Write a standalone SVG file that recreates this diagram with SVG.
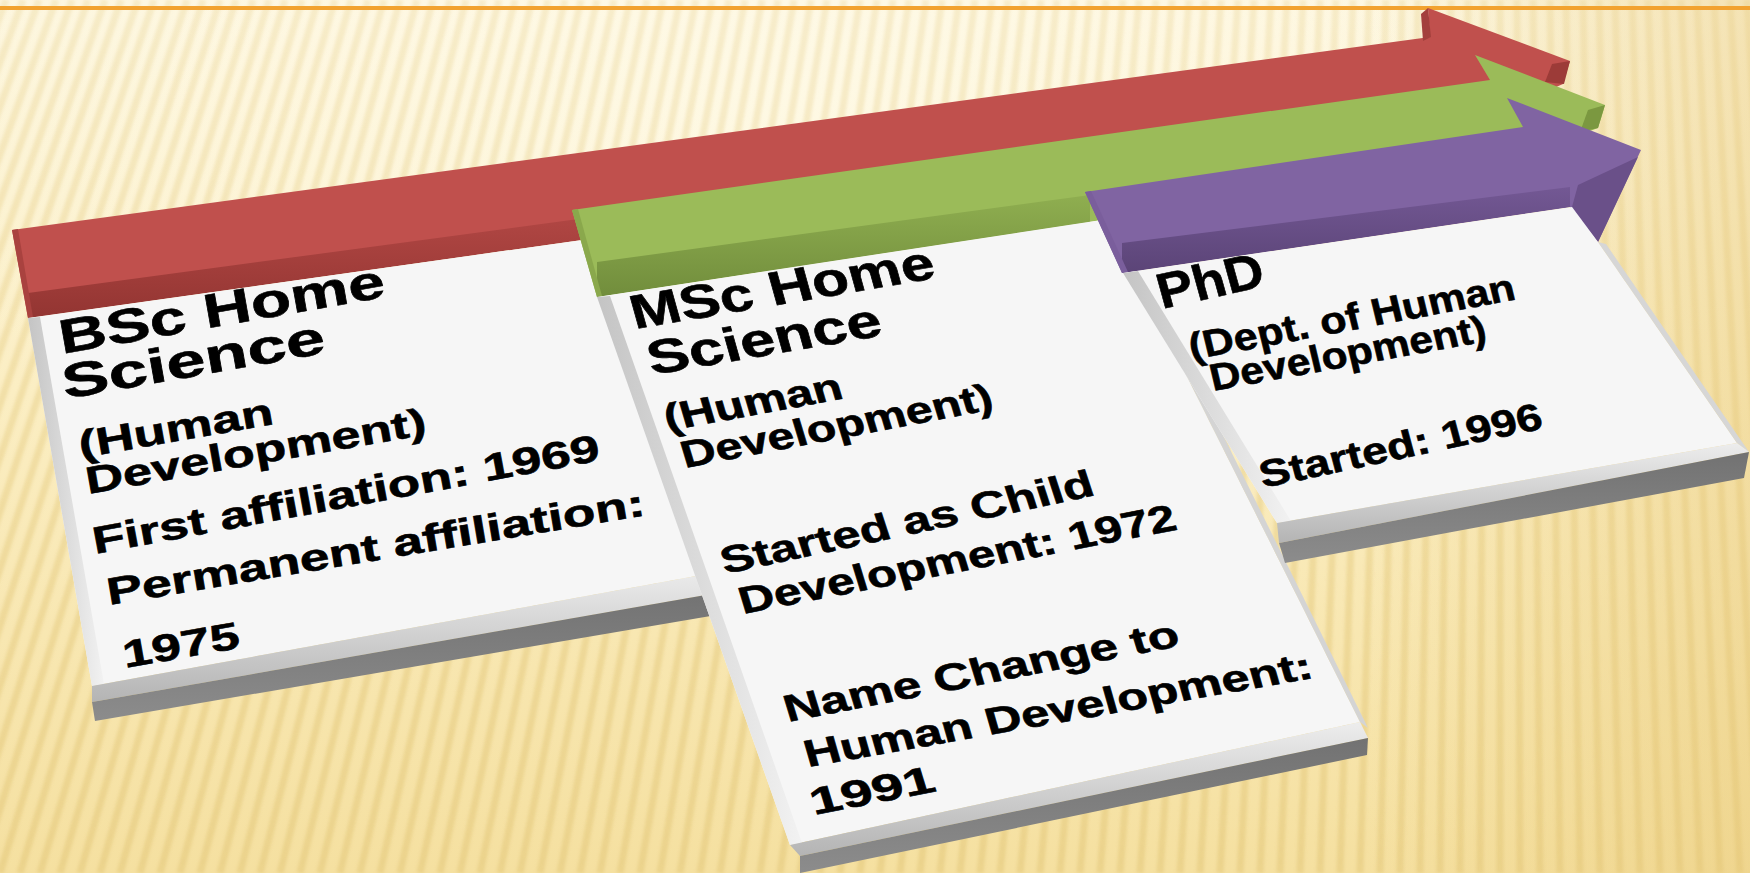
<svg xmlns="http://www.w3.org/2000/svg" width="1750" height="873" viewBox="0 0 1750 873">
<defs>
<style>
.t{font-family:"Liberation Sans",Arial,sans-serif;font-weight:bold;fill:#000;stroke:#000;stroke-width:0.6}
.h{font-size:48px}
.s{font-size:38px}
.card{fill:#f6f6f6}
.bevL{fill:url(#gBevL)}
.bevB{fill:url(#gBevB)}
.front{fill:url(#gFront)}
</style>
<linearGradient id="bgV" x1="0" y1="0" x2="0" y2="1">
<stop offset="0" stop-color="#fdf6de"/>
<stop offset="0.45" stop-color="#fbeec3"/>
<stop offset="1" stop-color="#f5e0a0"/>
</linearGradient>
<radialGradient id="bgGlow" cx="0.45" cy="0.1" r="0.55">
<stop offset="0" stop-color="#fffbea" stop-opacity="0.7"/>
<stop offset="1" stop-color="#fffbea" stop-opacity="0"/>
</radialGradient>
<linearGradient id="bgH" x1="0" y1="0" x2="1" y2="0">
<stop offset="0.78" stop-color="#e6c572" stop-opacity="0"/>
<stop offset="1" stop-color="#e6c572" stop-opacity="0.38"/>
</linearGradient>
<linearGradient id="stripeFade" x1="0" y1="0" x2="0" y2="1">
<stop offset="0" stop-color="#fff" stop-opacity="0.45"/>
<stop offset="1" stop-color="#fff" stop-opacity="1"/>
</linearGradient>
<mask id="stripeMask"><rect width="1750" height="873" fill="url(#stripeFade)"/></mask>
<filter id="soft" x="-5%" y="-5%" width="110%" height="110%"><feGaussianBlur stdDeviation="1.8"/></filter>
<linearGradient id="gBevL" x1="0" y1="0" x2="1" y2="0">
<stop offset="0" stop-color="#c4c4c4"/>
<stop offset="1" stop-color="#f2f2f2"/>
</linearGradient>
<linearGradient id="gBevB" x1="0" y1="0" x2="0" y2="1">
<stop offset="0" stop-color="#ededed"/>
<stop offset="1" stop-color="#b4b4b4"/>
</linearGradient>
<linearGradient id="gFront" x1="0" y1="0" x2="0" y2="1">
<stop offset="0" stop-color="#727272"/>
<stop offset="1" stop-color="#8c8c8c"/>
</linearGradient>
<linearGradient id="gRedF" x1="0" y1="0" x2="0" y2="1">
<stop offset="0" stop-color="#b34845"/>
<stop offset="1" stop-color="#933532"/>
</linearGradient>
<linearGradient id="gGreenF" x1="0" y1="0" x2="0" y2="1">
<stop offset="0" stop-color="#8fae50"/>
<stop offset="1" stop-color="#718d3c"/>
</linearGradient>
<linearGradient id="gPurpF" x1="0" y1="0" x2="0" y2="1">
<stop offset="0" stop-color="#735894"/>
<stop offset="1" stop-color="#5b4477"/>
</linearGradient>
</defs>

<g id="background">
<rect width="1750" height="873" fill="url(#bgV)"/>
<rect width="1750" height="873" fill="url(#bgGlow)"/>
<g mask="url(#stripeMask)" filter="url(#soft)" fill="none">
<path stroke="#e3c87c" stroke-opacity="0.55" stroke-width="7" d="M-320 873L6 0M-300 873L23 0M-280 873L39 0M-260 873L56 0M-240 873L72 0M-220 873L88 0M-200 873L105 0M-180 873L121 0M-160 873L138 0M-140 873L154 0M-120 873L170 0M-100 873L187 0M-80 873L203 0M-60 873L220 0M-40 873L236 0M-20 873L253 0M0 873L269 0M20 873L285 0M40 873L302 0M60 873L318 0M80 873L335 0M100 873L351 0M120 873L368 0M140 873L384 0M160 873L400 0M180 873L417 0M200 873L433 0M220 873L450 0M240 873L466 0M260 873L483 0M280 873L499 0M300 873L515 0M320 873L532 0M340 873L548 0M360 873L565 0M380 873L581 0M400 873L597 0M420 873L614 0M440 873L630 0M460 873L647 0M480 873L663 0M500 873L680 0M520 873L696 0M540 873L712 0M560 873L729 0M580 873L745 0M600 873L762 0M620 873L778 0M640 873L794 0M660 873L811 0M680 873L827 0M700 873L844 0M720 873L860 0M740 873L877 0M760 873L893 0M780 873L909 0M800 873L926 0M820 873L942 0M840 873L959 0M860 873L975 0M880 873L992 0M900 873L1008 0M920 873L1024 0M940 873L1041 0M960 873L1057 0M980 873L1074 0M1000 873L1090 0M1020 873L1106 0M1040 873L1123 0M1060 873L1139 0M1080 873L1156 0M1100 873L1172 0M1120 873L1189 0M1140 873L1205 0M1160 873L1221 0M1180 873L1238 0M1200 873L1254 0M1220 873L1271 0M1240 873L1287 0M1260 873L1303 0M1280 873L1320 0M1300 873L1336 0M1320 873L1353 0M1340 873L1369 0M1360 873L1386 0M1380 873L1402 0M1400 873L1418 0M1420 873L1435 0M1440 873L1451 0M1460 873L1468 0M1480 873L1484 0M1500 873L1500 0M1520 873L1517 0M1540 873L1533 0M1560 873L1550 0M1580 873L1566 0M1600 873L1583 0M1620 873L1599 0M1640 873L1615 0M1660 873L1632 0M1680 873L1648 0M1700 873L1665 0M1720 873L1681 0M1740 873L1697 0M1760 873L1714 0M1780 873L1730 0M1800 873L1747 0M1820 873L1763 0"/>
</g>
<rect width="1750" height="873" fill="url(#bgH)"/>
<rect x="0" y="6" width="1750" height="4" fill="#f2a22f"/>
</g>

<g id="connectors"></g>

<g id="node-bsc">
<g id="arrow-red">
<polygon fill="#c0504d" points="12,230 1430,37 1428,8 1570,61 1563,84 1480,120 660,228 28,318"/>
<polygon fill="url(#gRedF)" points="28,293 660,208 660,229 28,318"/>
<polygon fill="#a9423f" points="12,230 18,229 33,317 28,318"/>
<polygon fill="#a3403d" points="1428,8 1421,14 1423,41 1431,37"/>
<polygon fill="#9c3b38" points="1570,61 1564,84 1545,82 1552,64"/>
</g>
<polygon class="card" points="28,318 660,229 740,568 92,686"/>
<polygon class="bevL" points="28,318 40,317 104,684 92,686"/>
<polygon class="bevB" points="92,686 740,568 740,589 92,702"/>
<polygon class="front" points="92,702 740,589 740,611 95,721"/>
<text class="t h" transform="translate(62 354) rotate(-10)" textLength="330" lengthAdjust="spacingAndGlyphs">BSc Home</text>
<text class="t h" transform="translate(65 399) rotate(-10)" textLength="266" lengthAdjust="spacingAndGlyphs">Science</text>
<text class="t s" transform="translate(81 458) rotate(-10)" textLength="197" lengthAdjust="spacingAndGlyphs">(Human</text>
<text class="t s" transform="translate(88 494) rotate(-10)" textLength="345" lengthAdjust="spacingAndGlyphs">Development)</text>
<text class="t s" transform="translate(95 554) rotate(-10.5)" textLength="515" lengthAdjust="spacingAndGlyphs">First affiliation: 1969</text>
<text class="t s" transform="translate(109 605) rotate(-9.5)" textLength="545" lengthAdjust="spacingAndGlyphs">Permanent affiliation:</text>
<text class="t s" transform="translate(125 668) rotate(-10)" textLength="118" lengthAdjust="spacingAndGlyphs">1975</text>
</g>

<g id="node-msc">
<g id="arrow-green">
<polygon fill="#9bbb59" points="572,210 1490,80 1475,55 1605,105 1598,128 1540,150 1090,222 597,297"/>
<polygon fill="url(#gGreenF)" points="597,262 1090,195 1090,222 597,297"/>
<polygon fill="#8aa84c" points="572,210 578,209 602,296 597,297"/>
<polygon fill="#7b9840" points="1605,105 1598,128 1580,132 1588,110"/>
</g>
<polygon class="card" points="597,297 1108,219 1360,722 790,845"/>
<polygon class="bevL" points="597,297 610,296 802,843 790,845"/>
<polygon fill="#d4d4d4" points="1108,219 1116,219 1368,728 1360,722"/>
<polygon class="bevB" points="790,845 1360,722 1368,738 800,856"/>
<polygon class="front" points="800,856 1368,738 1367,755 800,873"/>
<text class="t h" transform="translate(635 329) rotate(-9.6) skewX(6)" textLength="307" lengthAdjust="spacingAndGlyphs">MSc Home</text>
<text class="t h" transform="translate(652 375) rotate(-9.7) skewX(6)" textLength="236" lengthAdjust="spacingAndGlyphs">Science</text>
<text class="t s" transform="translate(668 431) rotate(-10.5) skewX(6)" textLength="180" lengthAdjust="spacingAndGlyphs">(Human</text>
<text class="t s" transform="translate(685 468) rotate(-10.8) skewX(6)" textLength="316" lengthAdjust="spacingAndGlyphs">Development)</text>
<text class="t s" transform="translate(725 574) rotate(-12) skewX(6)" textLength="380" lengthAdjust="spacingAndGlyphs">Started as Child</text>
<text class="t s" transform="translate(743 614) rotate(-11) skewX(6)" textLength="444" lengthAdjust="spacingAndGlyphs">Development: 1972</text>
<text class="t s" transform="translate(788 722) rotate(-11) skewX(6)" textLength="401" lengthAdjust="spacingAndGlyphs">Name Change to</text>
<text class="t s" transform="translate(808 767) rotate(-10) skewX(6)" textLength="515" lengthAdjust="spacingAndGlyphs">Human Development:</text>
<text class="t s" transform="translate(814 815) rotate(-11) skewX(6)" textLength="126" lengthAdjust="spacingAndGlyphs">1991</text>
</g>

<g id="node-phd">
<g id="arrow-purple">
<polygon fill="#8064a2" points="1085,192 1523,127 1507,98 1641,150 1598,242 1570,207 1122,273"/>
<polygon fill="url(#gPurpF)" points="1122,243 1570,187 1570,207 1122,273"/>
<polygon fill="#6a5089" points="1578,185 1638,157 1598,242 1572,207"/>
<polygon fill="#7a5e9c" points="1085,192 1091,191 1128,272 1122,273"/>
</g>
<polygon class="card" points="1123,273 1572,207 1598,242 1737,443 1277,523"/>
<polygon class="bevL" points="1123,273 1138,271 1291,521 1277,523"/>
<polygon fill="#d6d6d6" points="1598,242 1737,443 1749,452 1606,244"/>
<polygon class="bevB" points="1277,523 1737,443 1749,452 1279,543"/>
<polygon class="front" points="1279,543 1749,452 1744,478 1285,563"/>
<text class="t h" style="font-size:50px" transform="translate(1162 309) rotate(-12.5) skewX(3)" textLength="108" lengthAdjust="spacingAndGlyphs">PhD</text>
<text class="t s" transform="translate(1192 360) rotate(-10.6) skewX(3)" textLength="331" lengthAdjust="spacingAndGlyphs">(Dept. of Human</text>
<text class="t s" transform="translate(1213 391) rotate(-10.3) skewX(3)" textLength="280" lengthAdjust="spacingAndGlyphs">Development)</text>
<text class="t s" transform="translate(1263 488) rotate(-12) skewX(3)" textLength="288" lengthAdjust="spacingAndGlyphs">Started: 1996</text>
</g>
</svg>
